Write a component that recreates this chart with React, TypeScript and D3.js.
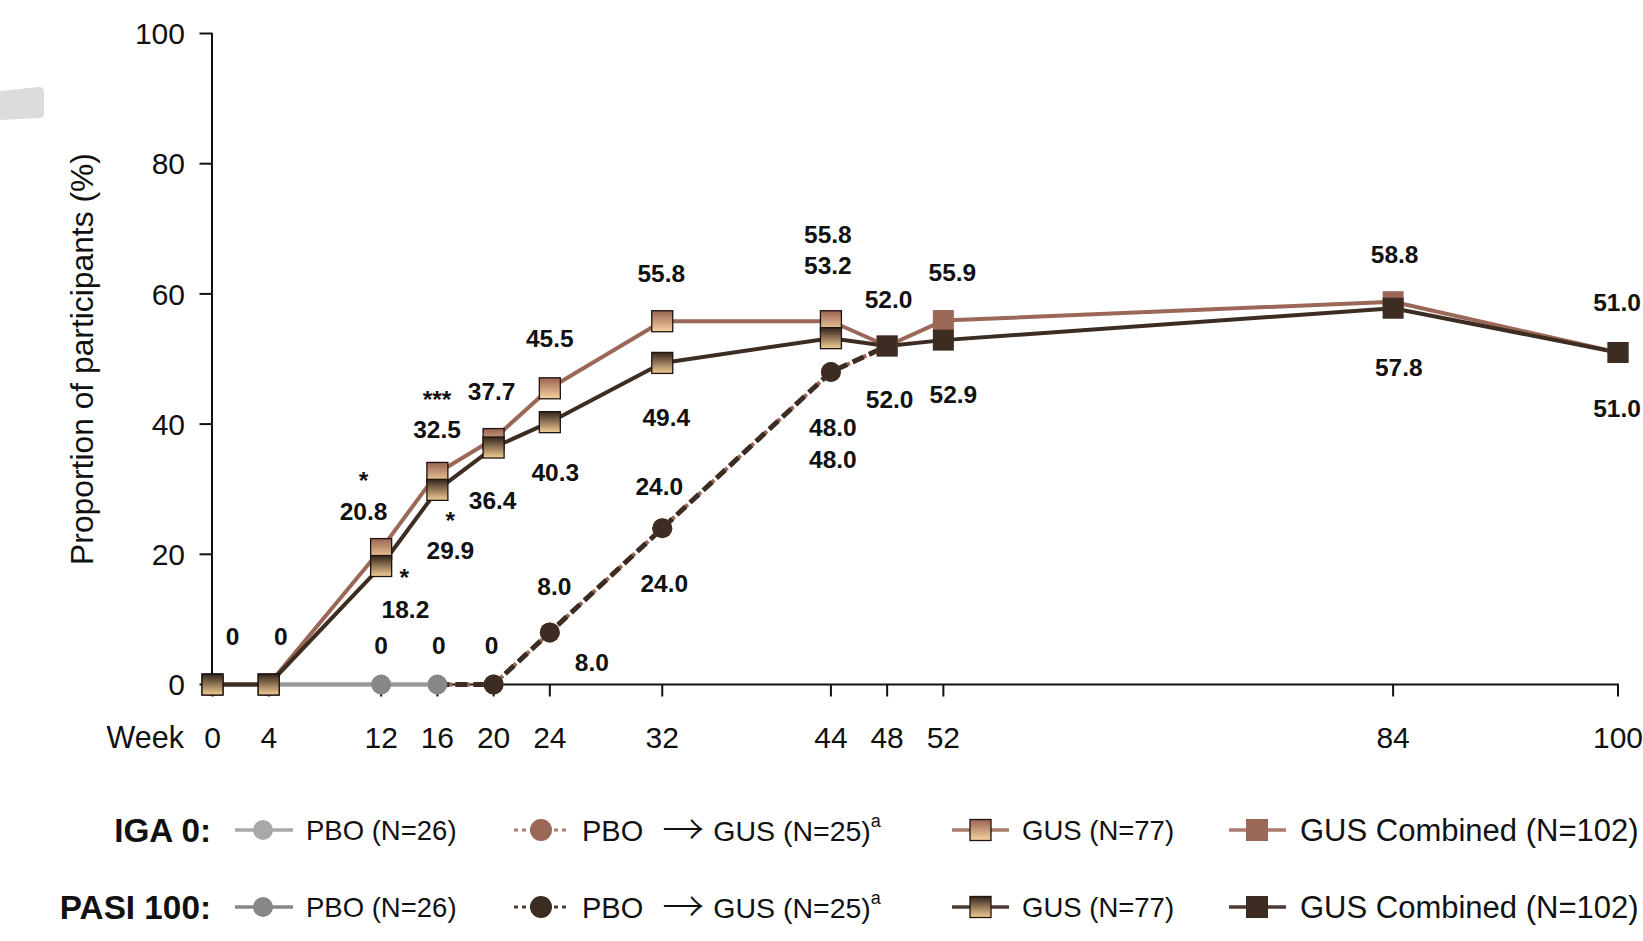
import React from "react";
import * as d3 from "d3";

// ---------- data ----------
const gusWeeks = [0, 4, 12, 16, 20, 24, 32, 44];
const igaGus = [0, 0, 20.8, 32.5, 37.7, 45.5, 55.8, 55.8];
const pasiGus = [0, 0, 18.2, 29.9, 36.4, 40.3, 49.4, 53.2];

const pboWeeks = [0, 4, 12, 16];
const igaPbo = [0, 0, 0, 0];
const pasiPbo = [0, 0, 0, 0];

const switchWeeks = [16, 20, 24, 32, 44];
const igaSwitch = [0, 0, 8.0, 24.0, 48.0];
const pasiSwitch = [0, 0, 8.0, 24.0, 48.0];

const combWeeks = [48, 52, 84, 100];
const igaComb = [52.0, 55.9, 58.8, 51.0];
const pasiComb = [52.0, 52.9, 57.8, 51.0];

const weekTicks = [0, 4, 12, 16, 20, 24, 32, 44, 48, 52, 84, 100];
const yTicks = [0, 20, 40, 60, 80, 100];

const legendRows = ["IGA 0:", "PASI 100:"];
const legendNames = ["PBO (N=26)", "PBO", "\u2192", "GUS (N=25)", "GUS (N=77)", "GUS Combined (N=102)"];

// ---------- layout ----------
const W = 1643;
const H = 941;
const x = d3.scaleLinear().domain([0, 100]).range([212.5, 1618]);
const y = d3.scaleLinear().domain([0, 100]).range([684.5, 33.5]);

const C = {
  igaLine: "#9b6757",
  pasiLine: "#3d2c22",
  pboLight: "#a8a8a8",
  pboDark: "#878787",
  axis: "#111111",
};

type Pt = { w: number; v: number };
const zip = (ws: number[], vs: number[]): Pt[] => ws.map((w, i) => ({ w, v: vs[i] }));

const series: Record<string, Pt[]> = {
  igaGus: zip(gusWeeks, igaGus),
  pasiGus: zip(gusWeeks, pasiGus),
  igaPbo: zip(pboWeeks, igaPbo),
  pasiPbo: zip(pboWeeks, pasiPbo),
  igaSwitch: zip(switchWeeks, igaSwitch),
  pasiSwitch: zip(switchWeeks, pasiSwitch),
  igaComb: zip(combWeeks, igaComb),
  pasiComb: zip(combWeeks, pasiComb),
};

// label offsets (pixels) relative to the data point
const labelLayout = [
  { s: "igaGus", w: 0, dx: 20, dy: -48.5 },
  { s: "igaGus", w: 4, dx: 12, dy: -48.5 },
  { s: "igaPbo", w: 12, dx: 0, dy: -39 },
  { s: "igaPbo", w: 16, dx: 1.5, dy: -39 },
  { s: "igaSwitch", w: 20, dx: -2, dy: -39 },
  { s: "igaGus", w: 12, dx: -17.6, dy: -37.8, star: "*", sdx: -17.6, sdy: -74.4 },
  { s: "pasiGus", w: 12, dx: 24.3, dy: 42.8, star: "*", sdx: 23, sdy: 6 },
  { s: "igaGus", w: 16, dx: -0.4, dy: -43.3, star: "***", sdx: -0.4, sdy: -79 },
  { s: "pasiGus", w: 16, dx: 13, dy: 60, star: "*", sdx: 13, sdy: 25.6 },
  { s: "igaGus", w: 20, dx: -2, dy: -48.3 },
  { s: "pasiGus", w: 20, dx: -1, dy: 52.3 },
  { s: "igaGus", w: 24, dx: 0, dy: -50 },
  { s: "pasiGus", w: 24, dx: 5.5, dy: 50.5 },
  { s: "igaSwitch", w: 24, dx: 4.5, dy: -46.7 },
  { s: "pasiSwitch", w: 24, dx: 42, dy: 29.8 },
  { s: "igaGus", w: 32, dx: -1, dy: -47.7 },
  { s: "pasiGus", w: 32, dx: 4, dy: 54 },
  { s: "igaSwitch", w: 32, dx: -3, dy: -42 },
  { s: "pasiSwitch", w: 32, dx: 2, dy: 55.3 },
  { s: "igaGus", w: 44, dx: -3, dy: -87.5 },
  { s: "pasiGus", w: 44, dx: -3, dy: -73 },
  { s: "igaSwitch", w: 44, dx: 2, dy: 55.5 },
  { s: "pasiSwitch", w: 44, dx: 2, dy: 87 },
  { s: "igaComb", w: 48, dx: 1.4, dy: -46.3 },
  { s: "pasiComb", w: 48, dx: 2.5, dy: 53.2 },
  { s: "igaComb", w: 52, dx: 9, dy: -48.2 },
  { s: "pasiComb", w: 52, dx: 10, dy: 54 },
  { s: "igaComb", w: 84, dx: 1.5, dy: -48 },
  { s: "pasiComb", w: 84, dx: 5.7, dy: 58.5 },
  { s: "igaComb", w: 100, dx: -1, dy: -50.7 },
  { s: "pasiComb", w: 100, dx: -1, dy: 56 },
];

const FONT = "'Liberation Sans', Arial, Helvetica, sans-serif";
const SQ = 21;
const R = 10;

const line = d3
  .line<Pt>()
  .x((d) => x(d.w))
  .y((d) => y(d.v));

const fmt = (v: number) => (v === 0 ? "0" : d3.format(".1f")(v));

function Square({ cx, cy, fill, stroke }: { cx: number; cy: number; fill: string; stroke?: string }) {
  return (
    <rect
      x={cx - SQ / 2}
      y={cy - SQ / 2}
      width={SQ}
      height={SQ}
      fill={fill}
      stroke={stroke || "none"}
      strokeWidth={stroke ? 1.3 : 0}
    />
  );
}

export default function App() {
  const igaGusToComb = [series.igaGus[series.igaGus.length - 1], series.igaComb[0]];
  const pasiGusToComb = [series.pasiGus[series.pasiGus.length - 1], series.pasiComb[0]];
  const igaSwitchPath = [...series.igaSwitch, series.igaComb[0]];
  const pasiSwitchPath = [...series.pasiSwitch, series.pasiComb[0]];

  const labelFont = 24.5;
  const rowY = [830, 907];

  return (
    <svg
      width={W}
      height={H}
      style={{ position: "absolute", left: 0, top: 0, background: "#fff" }}
      fontFamily={FONT}
    >
      <defs>
        <linearGradient id="gIga" x1="0" y1="0" x2="0" y2="1">
          <stop offset="0%" stopColor="#9a6253" />
          <stop offset="100%" stopColor="#f7d4a0" />
        </linearGradient>
        <linearGradient id="gPasi" x1="0" y1="0" x2="0" y2="1">
          <stop offset="0%" stopColor="#33231b" />
          <stop offset="100%" stopColor="#f4cd95" />
        </linearGradient>
      </defs>
      <rect x={0} y={0} width={W} height={H} fill="#fff" />

      {/* grey artifact at top-left */}
      <path d="M0,91 L39,87 Q44,87 44,92 L44,113 Q44,118 39,118 L0,120 Z" fill="#dcdcdc" />

      {/* axes */}
      <line x1={x(0) - 0.5} x2={x(0) - 0.5} y1={y(100)} y2={y(0)} stroke={C.axis} strokeWidth={2} />
      <line x1={x(0) - 1.5} x2={x(100) + 1} y1={y(0)} y2={y(0)} stroke={C.axis} strokeWidth={2} />
      {yTicks.map((t) => (
        <g key={"y" + t}>
          <line x1={x(0) - 13} x2={x(0)} y1={y(t)} y2={y(t)} stroke={C.axis} strokeWidth={2} />
          <text x={185} y={y(t) + 10.7} fontSize={30} textAnchor="end" fill="#111">
            {t}
          </text>
        </g>
      ))}
      {weekTicks.map((t) => (
        <g key={"x" + t}>
          <line x1={x(t)} x2={x(t)} y1={y(0)} y2={y(0) + 12} stroke={C.axis} strokeWidth={2} />
          <text x={x(t)} y={748} fontSize={30} textAnchor="middle" fill="#111">
            {t}
          </text>
        </g>
      ))}
      <text x={184} y={748} fontSize={30.5} textAnchor="end" fill="#111">
        Week
      </text>
      <text
        transform="translate(82,359) rotate(-90)"
        fontSize={31.8}
        textAnchor="middle"
        dominantBaseline="central"
        fill="#111"
      >
        Proportion of participants (%)
      </text>

      {/* PBO lines */}
      <path d={line(series.igaPbo) || ""} fill="none" stroke={C.pboLight} strokeWidth={4} />
      <path d={line(series.pasiPbo) || ""} fill="none" stroke="#999999" strokeWidth={4} />

      {/* PBO -> GUS dashed */}
      <path d={line(igaSwitchPath) || ""} fill="none" stroke={C.igaLine} strokeWidth={4} strokeDasharray="6 3" />
      <path d={line(pasiSwitchPath) || ""} fill="none" stroke={C.pasiLine} strokeWidth={5} strokeDasharray="12 6" />

      {/* GUS + combined lines */}
      <path d={line(series.igaGus) || ""} fill="none" stroke={C.igaLine} strokeWidth={4} strokeLinejoin="round" />
      <path d={line(igaGusToComb) || ""} fill="none" stroke={C.igaLine} strokeWidth={4} />
      <path d={line(series.igaComb) || ""} fill="none" stroke={C.igaLine} strokeWidth={4} strokeLinejoin="round" />
      <path d={line(series.pasiGus) || ""} fill="none" stroke={C.pasiLine} strokeWidth={4} strokeLinejoin="round" />
      <path d={line(pasiGusToComb) || ""} fill="none" stroke={C.pasiLine} strokeWidth={4} />
      <path d={line(series.pasiComb) || ""} fill="none" stroke={C.pasiLine} strokeWidth={4} strokeLinejoin="round" />

      {/* markers */}
      {series.pasiPbo.slice(2).map((d) => (
        <circle key={"pb" + d.w} cx={x(d.w)} cy={y(d.v)} r={R} fill={C.pboDark} />
      ))}
      {series.igaSwitch.slice(1).map((d) => (
        <circle key={"is" + d.w} cx={x(d.w)} cy={y(d.v)} r={R} fill={C.igaLine} />
      ))}
      {series.pasiSwitch.slice(1).map((d) => (
        <circle key={"ps" + d.w} cx={x(d.w)} cy={y(d.v)} r={R} fill={C.pasiLine} />
      ))}
      {series.igaGus.map((d) => (
        <Square key={"ig" + d.w} cx={x(d.w)} cy={y(d.v)} fill="url(#gIga)" stroke="#1e1410" />
      ))}
      {series.igaComb.map((d) => (
        <Square key={"ic" + d.w} cx={x(d.w)} cy={y(d.v)} fill={C.igaLine} />
      ))}
      {series.pasiGus.map((d) => (
        <Square key={"pg" + d.w} cx={x(d.w)} cy={y(d.v)} fill="url(#gPasi)" stroke="#1e1410" />
      ))}
      {series.pasiComb.map((d) => (
        <Square key={"pc" + d.w} cx={x(d.w)} cy={y(d.v)} fill={C.pasiLine} />
      ))}

      {/* value labels */}
      {labelLayout.map((L, i) => {
        const p = series[L.s].find((d) => d.w === L.w)!;
        const px = x(p.w);
        const py = y(p.v);
        return (
          <g key={"lab" + i} fontWeight="bold" fill="#111" textAnchor="middle">
            <text x={px + L.dx} y={py + L.dy + 8.8} fontSize={labelFont}>
              {fmt(p.v)}
            </text>
            {L.star && (
              <text x={px + (L.sdx ?? 0)} y={py + (L.sdy ?? 0) + 13.9} fontSize={labelFont}>
                {L.star}
              </text>
            )}
          </g>
        );
      })}

      {/* legend */}
      {legendRows.map((rowLabel, ri) => {
        const cy = rowY[ri];
        const isIga = ri === 0;
        const lineCol = isIga ? "#ad7b6c" : "#4c3b32";
        const main = isIga ? C.igaLine : C.pasiLine;
        const pbo = isIga ? C.pboLight : C.pboDark;
        return (
          <g key={"leg" + ri}>
            <text x={211} y={cy + 11.8} fontSize={33.3} fontWeight="bold" textAnchor="end" fill="#111">
              {rowLabel}
            </text>
            {/* PBO */}
            <line x1={235} x2={293} y1={cy} y2={cy} stroke={pbo} strokeWidth={3.5} />
            <circle cx={263} cy={cy} r={10} fill={pbo} />
            <text x={306} y={cy + 9.7} fontSize={27.5} fill="#111">
              {legendNames[0]}
            </text>
            {/* PBO -> GUS */}
            <line x1={514} x2={568} y1={cy} y2={cy} stroke={lineCol} strokeWidth={3} strokeDasharray="4 4" />
            <circle cx={541} cy={cy} r={11} fill={main} />
            <text x={582} y={cy + 10.5} fontSize={29} fill="#111">
              <tspan>{legendNames[1]}</tspan>
              <tspan dx={19} fontFamily="'Noto Sans CJK JP', 'DejaVu Sans', sans-serif" fontSize={42} fontWeight={300} dy={4}>
                {legendNames[2]}
              </tspan>
              <tspan dx={9} dy={-4} fontSize={28.5}>
                {legendNames[3]}
              </tspan>
              <tspan fontSize={18} dy={-14}>
                a
              </tspan>
            </text>
            {/* GUS */}
            <line x1={952} x2={1009} y1={cy} y2={cy} stroke={lineCol} strokeWidth={3.5} />
            <rect x={970} y={cy - 10.5} width={21} height={21} fill={isIga ? "url(#gIga)" : "url(#gPasi)"} stroke="#1e1410" strokeWidth={1.3} />
            <text x={1022} y={cy + 9.7} fontSize={27.5} fill="#111">
              {legendNames[4]}
            </text>
            {/* Combined */}
            <line x1={1229} x2={1286} y1={cy} y2={cy} stroke={lineCol} strokeWidth={3.5} />
            <rect x={1246} y={cy - 11} width={22} height={22} fill={main} />
            <text x={1300} y={cy + 11} fontSize={31} fill="#111">
              {legendNames[5]}
            </text>
          </g>
        );
      })}
    </svg>
  );
}
